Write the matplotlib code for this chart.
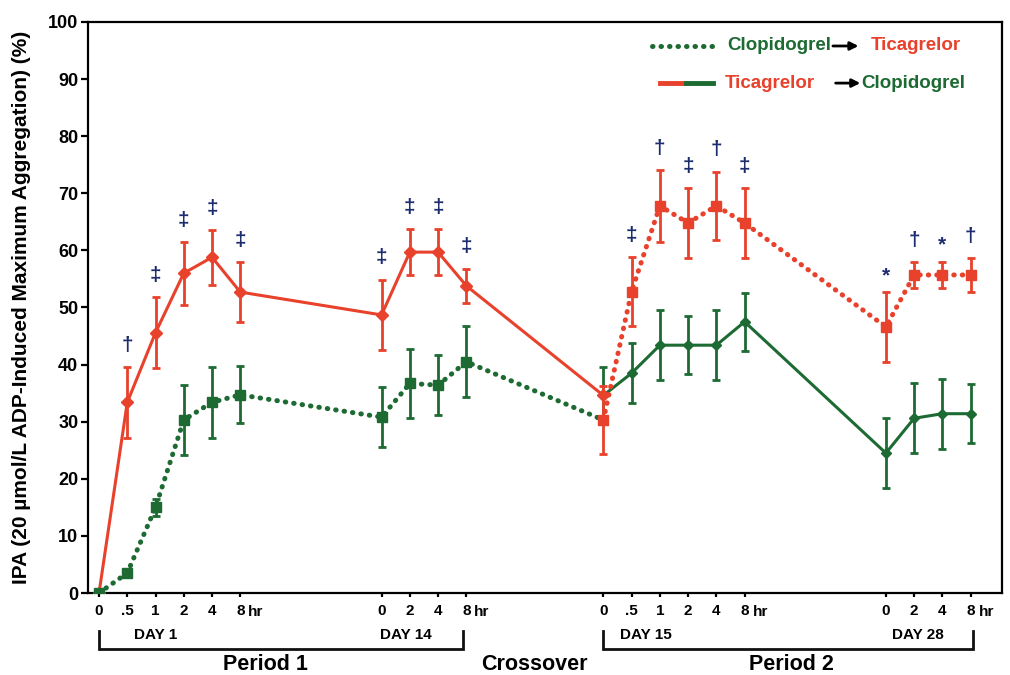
import matplotlib.pyplot as plt
import matplotlib.transforms as mtransforms

plt.rcParams['font.family'] = ['Liberation Sans', 'DejaVu Sans']
plt.rcParams['font.weight'] = 'bold'

# ---- data -------------------------------------------------------------------
day_labels = ['DAY 1', 'DAY 14', 'DAY 15', 'DAY 28']
day_hours = [['0', '.5', '1', '2', '4', '8'],
             ['0', '2', '4', '8'],
             ['0', '.5', '1', '2', '4', '8'],
             ['0', '2', '4', '8']]

# Ticagrelor -> Clopidogrel arm (solid line)
solid_mean = [0, 33.4, 45.6, 56.0, 58.8, 52.7, 48.7, 59.7, 59.7, 53.8,
              34.6, 38.5, 43.4, 43.4, 43.4, 47.5, 24.5, 30.6, 31.4, 31.4]
solid_err = [0, 6.2, 6.2, 5.5, 4.8, 5.2, 6.2, 4.0, 4.0, 3.0,
             5.0, 5.2, 6.1, 5.1, 6.1, 5.1, 6.1, 6.1, 6.1, 5.2]

# Clopidogrel -> Ticagrelor arm (dotted line)
dotted_mean = [0, 3.5, 15.0, 30.3, 33.4, 34.7, 30.8, 36.7, 36.4, 40.5,
               30.3, 52.8, 67.8, 64.8, 67.8, 64.8, 46.6, 55.7, 55.7, 55.7]
dotted_err = [0, 0.5, 1.5, 6.2, 6.2, 5.0, 5.2, 6.1, 5.2, 6.2,
              6.0, 6.0, 6.3, 6.1, 6.0, 6.1, 6.1, 2.3, 2.3, 3.0]

# significance marks over the ticagrelor points
sig_marks = ['', '\u2020', '\u2021', '\u2021', '\u2021', '\u2021',
             '\u2021', '\u2021', '\u2021', '\u2021',
             '', '\u2021', '\u2020', '\u2021', '\u2020', '\u2021',
             '*', '\u2020', '*', '\u2020']

# ---- layout -----------------------------------------------------------------
RED = '#e8412c'
GREEN = '#1d6b33'
NAVY = '#1c2c6e'

block_start = [0, 10, 17.85, 27.85]
x = []
for start, hrs in zip(block_start, day_hours):
    x += [start + i for i in range(len(hrs))]
tick_labels = [h for hrs in day_hours for h in hrs]
n1 = 10  # points before the switch at day 15, 0 hr

fig = plt.figure(figsize=(10.1, 6.75), dpi=100)
ax = fig.add_axes([88 / 1010, 82 / 675, 914 / 1010, 571 / 675])

dot_style = dict(linestyle=(0, (0.1, 1.6)), dash_capstyle='round', lw=3.6)
bar_style = dict(fmt='none', elinewidth=2, capsize=3, capthick=2, zorder=2)

# solid arm: red on ticagrelor, green after switch
ax.errorbar(x[:n1], solid_mean[:n1], yerr=solid_err[:n1], ecolor=RED, **bar_style)
ax.errorbar(x[n1:], solid_mean[n1:], yerr=solid_err[n1:], ecolor=GREEN, **bar_style)
ax.plot(x[:n1 + 1], solid_mean[:n1 + 1], color=RED, lw=2.2, zorder=3)
ax.plot(x[n1:], solid_mean[n1:], color=GREEN, lw=2.2, zorder=3)
ax.plot(x[n1 + 1:], solid_mean[n1 + 1:], 'D', color=GREEN, ms=5.5, zorder=4)
ax.plot(x[:n1 + 1], solid_mean[:n1 + 1], 'D', color=RED, ms=6, zorder=4)

# dotted arm: green on clopidogrel, red after switch
ax.errorbar(x[:n1], dotted_mean[:n1], yerr=dotted_err[:n1], ecolor=GREEN, **bar_style)
ax.errorbar(x[n1:], dotted_mean[n1:], yerr=dotted_err[n1:], ecolor=RED, **bar_style)
ax.plot(x[:n1 + 1], dotted_mean[:n1 + 1], color=GREEN, zorder=3, **dot_style)
ax.plot(x[n1:], dotted_mean[n1:], color=RED, zorder=3, **dot_style)
ax.plot(x[:n1], dotted_mean[:n1], 's', color=GREEN, ms=7, zorder=5)
ax.plot(x[n1:], dotted_mean[n1:], 's', color=RED, ms=7, zorder=5)

# significance symbols above the ticagrelor series
for i, mark in enumerate(sig_marks):
    if not mark:
        continue
    if i < n1:
        top = solid_mean[i] + solid_err[i]
    else:
        top = dotted_mean[i] + dotted_err[i]
    off = 2.9 if mark == '*' else 3.8
    ax.text(x[i], top + off, mark, color=NAVY, fontsize=15, ha='center',
            va='center', fontweight='bold')

# ---- axes -------------------------------------------------------------------
ax.set_xlim(-0.39, 31.96)
ax.set_ylim(0, 100)
ax.set_yticks(range(0, 101, 10))
ax.set_xticks(x)
ax.set_xticklabels(tick_labels)
for s in ax.spines.values():
    s.set_linewidth(1.6)
ax.tick_params(axis='y', length=5, width=1.6, pad=2, labelsize=13)
ax.tick_params(axis='x', length=3, width=1.6, pad=5, labelsize=11)
ax.set_ylabel('IPA (20 \u00b5mol/L ADP-Induced Maximum Aggregation) (%)',
              fontsize=15, fontweight='bold')
ax.yaxis.set_label_coords(-0.062, 0.5)

# ---- annotations below the axis --------------------------------------------
trans = mtransforms.blended_transform_factory(ax.transData, fig.transFigure)


def fy(py):
    return 1 - py / 675


for start, hrs in zip(block_start, day_hours):
    ax.text(start + len(hrs) - 1 + 0.28, fy(612), 'hr', transform=trans,
            fontsize=11, ha='left', va='center', fontweight='bold')

day_centers = [2.0, 10.87, 19.36, 29.0]
for cx, lab in zip(day_centers, day_labels):
    ax.text(cx, fy(635), lab, transform=trans, fontsize=11, ha='center',
            va='center', fontweight='bold')

for x0, x1 in [(0, 12.9), (17.85, 30.94)]:
    ax.plot([x0, x0, x1, x1], [fy(631), fy(649), fy(649), fy(631)],
            transform=trans, color='#111111', lw=2, clip_on=False,
            solid_joinstyle='miter')

for cx, lab in [(5.9, 'Period 1'), (15.4, 'Crossover'), (24.5, 'Period 2')]:
    ax.text(cx, fy(665), lab, transform=trans, fontsize=15.5, ha='center',
            va='center', fontweight='bold')

# ---- legend (drawn by hand) -------------------------------------------------
ly1, ly2 = 0.958, 0.893
ax.plot([0.617, 0.683], [ly1, ly1], transform=ax.transAxes, color=GREEN,
        **dot_style)
ax.text(0.699, ly1, 'Clopidogrel', transform=ax.transAxes, color=GREEN,
        fontsize=13.5, va='center', fontweight='bold')
ax.annotate('', xy=(0.843, ly1), xytext=(0.815, ly1), xycoords='axes fraction',
            arrowprops=dict(arrowstyle='-|>', lw=2, color='black',
                            mutation_scale=12, shrinkA=0, shrinkB=0))
ax.text(0.856, ly1, 'Ticagrelor', transform=ax.transAxes, color=RED,
        fontsize=13.5, va='center', fontweight='bold')

ax.plot([0.626, 0.654], [ly2, ly2], transform=ax.transAxes, color=RED, lw=3.5)
ax.plot([0.654, 0.684], [ly2, ly2], transform=ax.transAxes, color=GREEN, lw=3.5)
ax.text(0.697, ly2, 'Ticagrelor', transform=ax.transAxes, color=RED,
        fontsize=13.5, va='center', fontweight='bold')
ax.annotate('', xy=(0.845, ly2), xytext=(0.818, ly2), xycoords='axes fraction',
            arrowprops=dict(arrowstyle='-|>', lw=2, color='black',
                            mutation_scale=12, shrinkA=0, shrinkB=0))
ax.text(0.846, ly2, 'Clopidogrel', transform=ax.transAxes, color=GREEN,
        fontsize=13.5, va='center', fontweight='bold')

fig.savefig('out.png', dpi=100)
